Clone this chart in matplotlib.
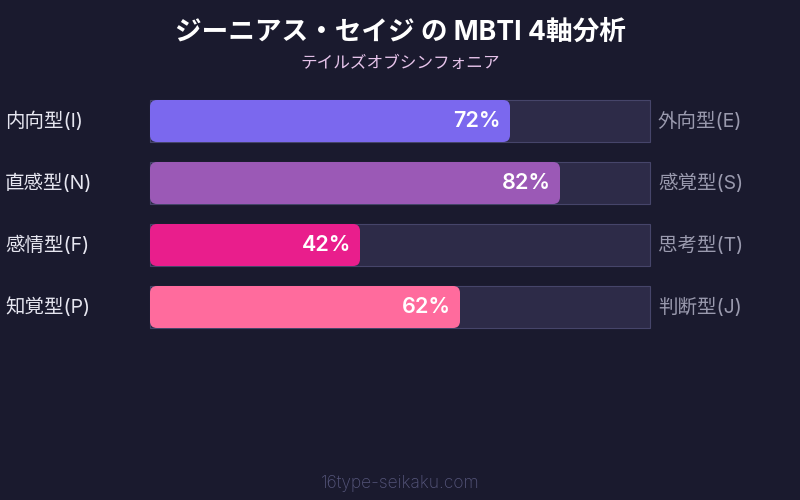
import matplotlib
matplotlib.use("Agg")
import matplotlib.pyplot as plt
from matplotlib.patches import FancyBboxPatch, Rectangle

plt.rcParams["font.family"] = ["Inter", "Noto Sans CJK JP", "DejaVu Sans"]

title = "ジーニアス・セイジ の MBTI 4軸分析"
subtitle = "テイルズオブシンフォニア"
footer = "16type-seikaku.com"

left_labels = ["内向型(I)", "直感型(N)", "感情型(F)", "知覚型(P)"]
right_labels = ["外向型(E)", "感覚型(S)", "思考型(T)", "判断型(J)"]
percents = [72, 82, 42, 62]
colors = ["#7b68ee", "#9b59b6", "#e91e8c", "#ff6b9d"]

BG = "#1a1a2e"
TRACK = "#2d2b48"
TRACK_EDGE = "#46456a"

fig = plt.figure(figsize=(8, 5), dpi=100, facecolor=BG)

# bar area: 150..650 px wide, 100..328 px tall
ax = fig.add_axes([150 / 800, 172 / 500, 500 / 800, 228 / 500])
ax.set_facecolor(BG)
ax.set_xlim(0, 100)
half = 21 / 62
ax.set_ylim(len(percents) - 1 + half, -half)
ax.axis("off")

bar_h = 42 / 62
for i, (pct, col) in enumerate(zip(percents, colors)):
    ax.add_patch(Rectangle((0, i - bar_h / 2), 100, bar_h, facecolor=TRACK,
                           edgecolor=TRACK_EDGE, linewidth=0.8, clip_on=False))
    ax.add_patch(FancyBboxPatch((0, i - bar_h / 2), pct, bar_h,
                                boxstyle="round,pad=0,rounding_size=1.4",
                                mutation_aspect=5 / 62,
                                facecolor=col, edgecolor="none", clip_on=False))
    ax.text(pct - 1.8, i, f"{pct}%", ha="right", va="center", color="white",
            fontsize=15.5, fontweight="semibold")
    ax.text(-29, i, left_labels[i], ha="left", va="center", color="#e6e6f0",
            fontsize=14)
    ax.text(101.6, i, right_labels[i], ha="left", va="center", color="#9a9aae",
            fontsize=14)

fig.text(0.5, 1 - 33 / 500, title, ha="center", va="center", color="white",
         fontsize=19.2, fontweight="bold")
fig.text(0.5, 1 - 63 / 500, subtitle, ha="center", va="center", color="#e6c3ea",
         fontsize=12)
fig.text(0.5, 1 - 484 / 500, footer, ha="center", va="center", color="#55557a",
         fontsize=12.5, fontweight="light")

fig.savefig("out.png", dpi=100, facecolor=BG)
